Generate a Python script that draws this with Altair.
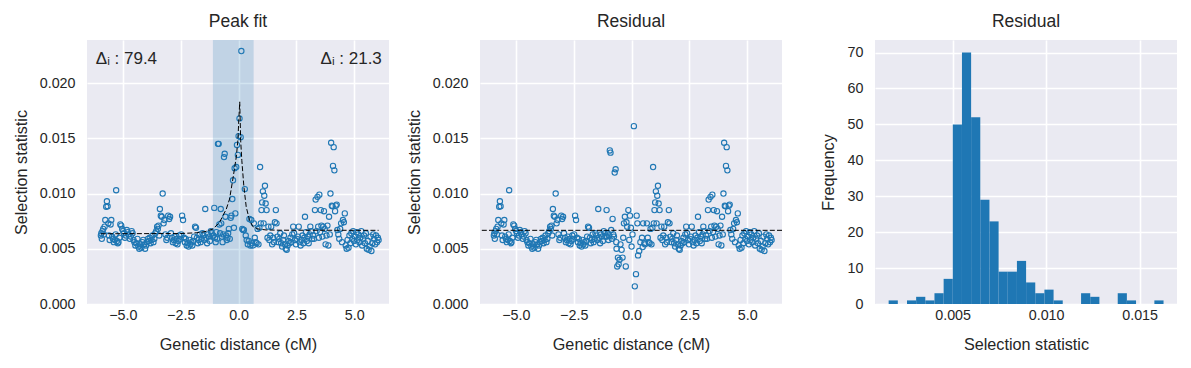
import altair as alt
import pandas as pd

# ---------------- data ----------------
# genetic position (cM) of each window, left panel / residual panel
x_cm = [
    -5.95, -5.93, -5.91, -5.88, -5.85, -5.82, -5.79, -5.76, -5.72, -5.69, -5.66, -5.63, -5.60, -5.57, -5.53, -5.50,
    -5.46, -5.43, -5.39, -5.35, -5.31, -5.29, -5.26, -5.22, -5.19, -5.15, -5.11, -5.07, -5.03,
    -4.99, -4.95, -4.91, -4.87, -4.83, -4.79, -4.75, -4.70, -4.66, -4.62, -4.58, -4.54, -4.50, -4.46, -4.42, -4.37,
    -4.33, -4.29, -4.25, -4.20, -4.16, -4.12, -4.08, -4.04,
    -4.00, -3.96, -3.92, -3.88, -3.84, -3.80, -3.76, -3.72, -3.68, -3.64, -3.60, -3.56, -3.52, -3.49, -3.46, -3.43,
    -3.40, -3.36, -3.32, -3.28, -3.24, -3.20, -3.16, -3.12, -3.08, -3.04,
    -3.00, -2.96, -2.92, -2.88, -2.84, -2.80, -2.76, -2.72, -2.68, -2.64, -2.60, -2.56, -2.52, -2.48, -2.44, -2.40,
    -2.36, -2.32, -2.28, -2.24, -2.20, -2.16, -2.12, -2.08, -2.04,
    -2.00, -1.96, -1.92, -1.88, -1.84, -1.80, -1.76, -1.72, -1.68, -1.64, -1.60, -1.56, -1.52, -1.48, -1.44, -1.40,
    -1.36, -1.32, -1.28, -1.24, -1.20, -1.16, -1.12,
    -1.09, -1.05, -1.02, -0.99, -0.96, -0.93, -0.89, -0.86, -0.83, -0.80, -0.77, -0.75, -0.72, -0.69, -0.66, -0.63,
    -0.60, -0.57, -0.54, -0.51, -0.48, -0.45, -0.42, -0.38, -0.34, -0.31, -0.27, -0.24, -0.20, -0.17, -0.14, -0.10,
    -0.07, -0.03, 0.00, 0.04, 0.09, 0.12, 0.16, 0.20, 0.23, 0.27, 0.31, 0.35, 0.40, 0.44, 0.47, 0.51, 0.55, 0.58, 0.62,
    0.66, 0.70, 0.74, 0.78, 0.82, 0.86, 0.90, 0.93, 0.96, 0.99, 1.02, 1.05, 1.08, 1.11, 1.14, 1.17, 1.21, 1.25,
    1.29, 1.33, 1.37, 1.41, 1.45, 1.49, 1.53, 1.57, 1.61, 1.64,
    1.68, 1.72, 1.76, 1.80, 1.84, 1.88, 1.92, 1.96, 2.00, 2.04, 2.08, 2.12, 2.16, 2.20, 2.24, 2.28, 2.32, 2.36,
    2.40, 2.44, 2.48, 2.52, 2.56, 2.60, 2.64, 2.68, 2.72, 2.76, 2.80, 2.84, 2.87, 2.91, 2.95, 2.99, 3.03, 3.07,
    3.10, 3.14, 3.18,
    3.22, 3.26, 3.30, 3.33, 3.37, 3.41, 3.44, 3.47, 3.49, 3.52, 3.55, 3.58, 3.62, 3.66, 3.69, 3.72, 3.76, 3.80,
    3.84, 3.88, 3.91, 3.94, 3.97, 4.00, 4.03, 4.06, 4.08, 4.11, 4.14, 4.17, 4.20, 4.24, 4.27, 4.31, 4.35, 4.39,
    4.43, 4.47, 4.51, 4.55, 4.59, 4.63, 4.67, 4.71, 4.75,
    4.79, 4.83, 4.87, 4.91, 4.95, 4.99, 5.03, 5.07, 5.10, 5.14, 5.18, 5.22, 5.26, 5.30, 5.34, 5.38, 5.42, 5.46,
    5.50, 5.54, 5.58, 5.62, 5.66, 5.70, 5.74, 5.78, 5.82, 5.86, 5.90, 5.94, 5.98, 6.02, 6.05,
]

# selection statistic (x 1e-3) for the "Peak fit" panel
peak_milli = [
    6.2, 6.4, 5.9, 6.6, 6.8, 6.3, 7.0, 7.6, 8.8, 9.3, 8.85, 7.3, 6.2, 5.8, 7.2, 7.6,
    6.1, 5.9, 5.6, 5.8, 6.3, 10.3, 5.7, 5.5, 5.6, 6.0, 7.2, 7.1, 6.8,
    6.6, 6.4, 6.0, 6.2, 6.7, 6.5, 6.3, 5.9, 6.1, 6.6, 6.4, 5.8, 5.6, 5.3, 5.5, 5.9,
    5.2, 5.0, 5.4, 5.1, 5.6, 5.8, 5.4, 5.0,
    5.3, 5.6, 5.9, 5.7, 6.0, 5.5, 5.8, 6.2, 5.6, 5.9, 6.4, 6.6, 7.0, 6.8, 7.1, 6.2,
    8.6, 8.0, 7.9, 10.0, 7.3, 7.6, 6.3, 5.8, 6.0, 8.0,
    7.7, 7.9, 6.4, 6.0, 5.6, 5.8, 6.1, 5.5, 5.9, 5.4, 5.7, 6.2, 5.9, 6.3, 8.0, 7.6,
    6.0, 5.6, 5.9, 5.3, 5.5, 5.2, 5.8, 5.4, 5.6,
    5.3, 5.7, 6.1, 7.0, 6.9, 6.0, 5.5, 5.8, 6.3, 5.6, 5.9, 6.4, 6.2, 5.8, 8.6, 6.0,
    5.5, 6.3, 6.1, 5.7, 6.6, 6.4, 6.1,
    6.2, 8.7, 6.0, 5.6, 6.5, 5.9, 14.5, 14.5, 7.2, 6.4, 8.6, 7.3, 6.1, 5.6, 6.3, 13.3,
    13.6, 7.9, 6.2, 5.8, 6.0, 6.4, 6.8, 5.9, 7.8, 8.0, 9.5, 11.2, 6.9, 12.3, 8.2, 12.4,
    14.4, 13.5, 15.2, 16.8, 15.1, 22.9, 6.8, 6.7, 6.7, 10.4, 6.2, 5.8, 5.4, 5.7, 7.7, 5.3, 7.6, 5.5, 5.3,
    7.3, 6.0, 5.6, 5.5, 6.8, 5.4, 6.9, 12.4, 7.3, 8.5, 9.2, 10.2, 7.3, 9.8, 10.7, 9.1, 8.5, 6.0,
    7.0, 5.8, 6.2, 7.0, 5.4, 6.0, 5.6, 7.4, 8.5, 7.3,
    6.1, 5.6, 5.9, 6.4, 5.5, 5.2, 5.8, 6.2, 5.4, 5.0, 4.9, 5.3, 5.7, 5.5, 6.0, 5.6, 6.3, 7.0,
    6.4, 5.8, 5.4, 5.9, 6.1, 7.0, 5.6, 5.3, 5.8, 6.2, 5.5, 6.0, 7.9, 6.5, 5.7, 6.1, 5.5, 6.3,
    7.0, 6.6, 5.9,
    6.2, 5.9, 8.5, 9.45, 6.6, 9.7, 7.0, 6.0, 9.9, 6.5, 8.5, 7.1, 6.1, 7.0, 8.4, 6.8, 5.4, 6.2,
    7.1, 5.3, 7.9, 6.3, 10.0, 14.6, 8.9, 8.85, 12.5, 14.2, 12.1, 8.4, 8.9, 9.0, 6.7, 6.3, 5.9, 6.8,
    7.3, 5.6, 7.6, 7.4, 8.2, 5.3, 5.0, 5.8, 5.1,
    6.2, 5.5, 6.4, 5.9, 6.6, 5.7, 6.1, 5.4, 6.5, 5.8, 6.3, 5.6, 6.0, 6.6, 5.3, 5.9, 6.2, 5.5,
    6.4, 5.0, 5.7, 4.9, 5.2, 6.1, 4.8, 5.5, 6.3, 5.9, 5.4, 6.2, 5.6, 6.0, 5.8,
]

# residual panel: windows inside the peak region, read separately (x 1e-3)
resid_center_x = [
    -1.08, -1.06, -1.03, -1.00, -0.97, -0.94, -0.91, -0.88, -0.85, -0.82, -0.79, -0.76, -0.73, -0.69, -0.66, -0.65,
    -0.62, -0.59, -0.56, -0.52, -0.48, -0.43, -0.39, -0.36, -0.33, -0.29, -0.25, -0.22, -0.19, -0.14, -0.10, -0.07,
    -0.03, 0.00, 0.04, 0.10, 0.14, 0.19, 0.22, 0.25, 0.28, 0.33, 0.38, 0.45, 0.48, 0.50, 0.55, 0.58,
]
resid_center_milli = [
    8.5, 6.1, 6.4, 5.8, 6.2, 13.9, 13.7, 6.7, 5.9, 7.7, 6.3, 6.1, 11.9, 12.2, 5.6, 5.0,
    3.4, 4.2, 3.6, 4.0, 5.4, 4.9, 4.2, 6.0, 7.3, 7.9, 3.4, 7.4, 7.0, 8.5, 5.8, 8.0,
    6.9, 5.2, 6.3, 16.1, 1.6, 2.7, 8.0, 7.3, 4.4, 4.8, 5.6, 6.0, 5.15, 7.3, 5.5, 5.4,
]
peak_region = [-1.10, 0.64]

# fitted peak curve (x 1e-3)
fit_x = [-5.95, -2.5, -1.8, -1.45, -1.1, -0.82, -0.53, -0.39, -0.24, -0.10, -0.03, 0.01, 0.05,
         0.09, 0.14, 0.23, 0.33, 0.47, 0.62, 0.83, 1.2, 1.8, 6.05]
fit_milli = [6.36, 6.38, 6.45, 6.55, 6.8, 7.4, 8.6, 9.5, 11.4, 13.3, 14.8, 16.7, 18.3,
             14.8, 13.0, 10.6, 8.8, 7.6, 7.0, 6.8, 6.7, 6.68, 6.67]

span_start, span_end = -1.11, 0.65
resid_mean = 0.00667

annot_text = ["\u0394\u1d62 : 79.4", "\u0394\u1d62 : 21.3"]
annot_x = [-6.17, 6.19]
annot_y = [0.02175, 0.02175]

# histogram of residuals: bin edges and counts
hist_edges = [0.00158, 0.00207, 0.00256, 0.00305, 0.00354, 0.00403, 0.00452, 0.00501, 0.00550, 0.00599,
              0.00648, 0.00697, 0.00746, 0.00795, 0.00844, 0.00893, 0.00942, 0.00991, 0.01040, 0.01089,
              0.01138, 0.01187, 0.01236, 0.01285, 0.01334, 0.01383, 0.01432, 0.01481, 0.01530, 0.01579, 0.01628]
hist_counts = [1, 0, 1, 2, 1, 3, 7, 50, 70, 52, 29, 23, 9, 9, 12, 6, 3, 4, 1, 0, 0, 3, 2, 0, 0, 3, 1, 0, 0, 1]

# ---------------- tables ----------------
peak_df = pd.DataFrame({"x": x_cm, "y": [v / 1000 for v in peak_milli]})
outer_df = peak_df[(peak_df["x"] < peak_region[0]) | (peak_df["x"] > peak_region[1])]
resid_df = pd.concat([outer_df, pd.DataFrame({"x": resid_center_x,
                                              "y": [v / 1000 for v in resid_center_milli]})],
                     ignore_index=True)
fit_df = pd.DataFrame({"x": fit_x, "y": [v / 1000 for v in fit_milli]})
span_df = pd.DataFrame({"a": [span_start], "b": [span_end]})
mean_df = pd.DataFrame({"y": [resid_mean]})
annot_df = pd.DataFrame({"x": annot_x, "y": annot_y, "t": annot_text})
hist_df = pd.DataFrame({"start": hist_edges[:-1], "end": hist_edges[1:], "count": hist_counts})

# ---------------- style ----------------
FONT = "Liberation Sans"
TXT = "#262626"
BLUE = "#1f77b4"
W, H = 302, 264

xscale = alt.Scale(domain=[-6.55, 6.5], nice=False, zero=False)
yscale = alt.Scale(domain=[0, 0.0239], nice=False)
xaxis = alt.Axis(title="Genetic distance (cM)", values=[-5, -2.5, 0, 2.5, 5], format=".1f")
yaxis = alt.Axis(title="Selection statistic", values=[0, 0.005, 0.01, 0.015, 0.02], format=".3f")


def title(t):
    return alt.TitleParams(t, fontSize=17.5, font=FONT, color=TXT, fontWeight="normal",
                           offset=-4.5, baseline="alphabetic")


def points(df):
    return alt.Chart(df).mark_point(shape="circle", filled=False, size=28, strokeWidth=1.1,
                                    color=BLUE, opacity=1).encode(
        x=alt.X("x:Q", scale=xscale, axis=xaxis),
        y=alt.Y("y:Q", scale=yscale, axis=yaxis),
    )


span = alt.Chart(span_df).mark_rect(color=BLUE, opacity=0.2).encode(
    x=alt.X("a:Q", scale=xscale, axis=xaxis), x2="b:Q")
fit = alt.Chart(fit_df).mark_line(color="black", strokeWidth=1, strokeDash=[5, 2.2]).encode(
    x=alt.X("x:Q", scale=xscale, axis=xaxis), y=alt.Y("y:Q", scale=yscale, axis=yaxis))
annot_l = alt.Chart(annot_df.iloc[[0]]).mark_text(align="left", baseline="alphabetic", fontSize=17,
                                                 font=FONT, color=TXT).encode(
    x=alt.X("x:Q", scale=xscale), y=alt.Y("y:Q", scale=yscale), text="t:N")
annot_r = alt.Chart(annot_df.iloc[[1]]).mark_text(align="right", baseline="alphabetic", fontSize=17,
                                                 font=FONT, color=TXT).encode(
    x=alt.X("x:Q", scale=xscale), y=alt.Y("y:Q", scale=yscale), text="t:N")

p1 = alt.layer(span, points(peak_df), fit, annot_l, annot_r).properties(
    width=W, height=H, title=title("Peak fit"))

mean_rule = alt.Chart(mean_df).mark_rule(color="black", strokeWidth=1, strokeDash=[5, 2.2]).encode(
    y=alt.Y("y:Q", scale=yscale))
p2 = alt.layer(points(resid_df), mean_rule).properties(width=W, height=H, title=title("Residual"))

p3 = alt.Chart(hist_df).mark_rect(color=BLUE, strokeWidth=0).encode(
    x=alt.X("start:Q", scale=alt.Scale(domain=[0.00085, 0.0170], nice=False, zero=False),
            axis=alt.Axis(title="Selection statistic", values=[0.005, 0.01, 0.015], format=".3f")),
    x2="end:Q",
    y=alt.Y("count:Q", scale=alt.Scale(domain=[0, 73.5], nice=False),
            axis=alt.Axis(title="Frequency", values=[0, 10, 20, 30, 40, 50, 60, 70], titlePadding=11)),
).properties(width=W, height=H, title=title("Residual"))

chart = alt.hconcat(alt.hconcat(p1, p2, spacing=17), p3, spacing=37).properties(
    padding={"left": 5, "top": 5, "right": 5, "bottom": 5}
).configure_view(fill="#EAEAF2", strokeWidth=0).configure_axis(
    grid=True, gridColor="white", gridWidth=1.6, domain=False, ticks=False, tickSize=0,
    labelFont=FONT, labelFontSize=14.3, labelColor=TXT, labelPadding=12,
    titleFont=FONT, titleFontSize=16.2, titleFontWeight="normal", titleColor=TXT, titlePadding=10,
).configure_axisX(labelPadding=4, titlePadding=14)

chart.save("out.html", embed_options={"renderer": "svg", "actions": False})
